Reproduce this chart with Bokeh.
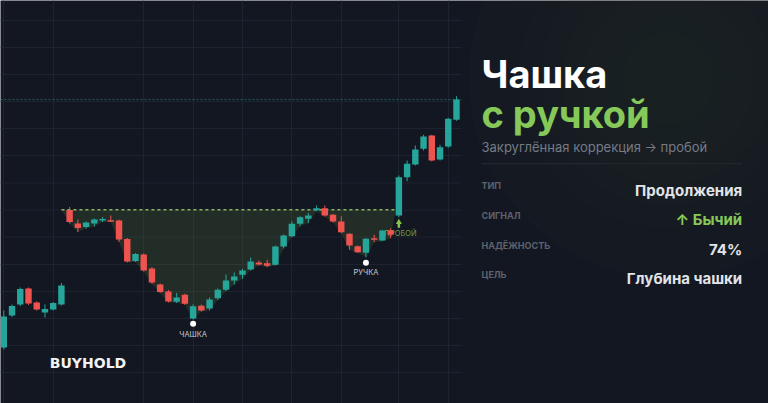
from bokeh.plotting import figure
from bokeh.models import Range1d, FixedTicker, ColumnDataSource
from bokeh.core.properties import value
from bokeh.embed import file_html
from bokeh.resources import INLINE

# ---------------- data ----------------
opens = [53, 85, 96, 112, 98, 88, 91, 96,
         190.5, 177, 173.5, 177, 180.5, 180.2, 180, 161.5, 139.5, 146, 132, 116,
         109, 98.7, 105.7, 82, 94.7, 92, 102.3, 110.7, 120, 125.7, 131, 138,
         137.3, 135.7, 154, 164.3, 176.7, 181.7, 190.3, 192.3, 185.7, 179, 166.7,
         154.3, 147.7, 162.3, 160, 170, 185, 223.3, 236, 251.7, 265, 241, 254, 280.7]
closes = [84, 94.5, 111.5, 97, 91, 91.5, 97.5, 115,
          178.5, 172.5, 178, 181, 181.5, 179.3, 161, 139, 146.5, 130, 118, 108.5,
          99, 103, 96.7, 94.3, 90, 101, 110.7, 120, 124, 130, 139, 136,
          134.7, 154, 165, 176.7, 183.3, 185, 192.3, 185, 179, 168.3, 155,
          148.3, 161.7, 160.7, 170, 165.7, 223.3, 236.7, 251, 264, 240, 253.3, 281.7, 301]
highs = [90, 96, 113, 113, 99, 96, 98.5, 117.5,
         193.5, 181, 179, 182, 183.5, 185, 181, 162.5, 147.5, 147, 133.5, 117,
         110.5, 107.5, 106.7, 96, 96, 103, 112, 126, 128, 131.7, 143, 140,
         140.7, 155, 166, 179.3, 184.3, 187.7, 195, 195, 186.7, 184.3, 167.3,
         155, 162.3, 165.7, 170.7, 172.3, 225, 240, 255, 265.7, 265.7, 255.7, 282.7, 304.3]
lows = [51, 83.5, 94.5, 95.5, 90, 83, 90, 95,
        177, 168.5, 172, 174, 178.5, 178.5, 158.5, 138, 138.5, 129, 116.5, 107.5,
        98, 97.5, 95.7, 81, 89, 90, 100.5, 109.5, 116, 121.7, 130, 135,
        133.3, 135, 152, 163.3, 174.3, 177.3, 189.3, 184, 178, 167.3, 150.7,
        147.7, 143.3, 158.3, 159.3, 162.3, 183.3, 219.3, 235, 250, 239, 240, 252.7, 279.7]
idx = list(range(len(opens)))

grid_x = [0, 6, 17, 23, 29, 35, 41, 48, 54]
grid_y = [28, 55, 82, 109, 136, 163.5, 190.5, 217.5, 245, 272, 299, 326, 353, 380]

rim_level = 190.7
cup_start = 7.0
cup_end = 47.6

marks_x = [23, 44]
marks_y = [76.7, 137.7]
marks_text = ["ЧАШКА", "РУЧКА"]
marks_text_y = [66.5, 128.3]

breakout_x = 48
breakout_arrow_y = 178.3
breakout_text = "ПРОБОЙ"
breakout_text_y = 166.7

title_1 = "Чашка"
title_2 = "с ручкой"
subtitle = "Закруглённая коррекция → пробой"
row_labels = ["ТИП", "СИГНАЛ", "НАДЁЖНОСТЬ", "ЦЕЛЬ"]
row_values = ["Продолжения", "↑ Бычий", "74%", "Глубина чашки"]

BG = "#131722"
UP = "#26a69a"
DOWN = "#ef5350"
GREEN = "#86c95a"
FONT = value("Inter")

X0, X1 = -0.401, 92.91   # candle-index span of the whole canvas
CHART_END = 55.61         # right edge of the price area (index units)

p = figure(width=768, height=403, x_range=Range1d(X0, X1), y_range=Range1d(-3, 400),
           output_backend="svg", toolbar_location=None, min_border=0)
p.extra_x_ranges = {"px": Range1d(0, 768)}
p.extra_y_ranges = {"py": Range1d(403, 0)}
p.background_fill_color = BG
p.border_fill_color = BG
p.outline_line_color = None
p.axis.visible = False
p.xgrid.ticker = FixedTicker(ticks=grid_x)
p.xgrid.grid_line_color = "#1e2330"
p.ygrid.visible = False

# panel glow
glow_r = [200, 175, 150, 128, 106, 86, 66, 46]
p.circle([668] * len(glow_r), [78] * len(glow_r), radius=glow_r, fill_color="#354530",
         fill_alpha=0.045, line_color=None, x_range_name="px", y_range_name="py")

# horizontal grid of the price area only
p.segment([X0] * len(grid_y), grid_y, [CHART_END] * len(grid_y), grid_y,
          line_color="#1e2330", line_width=1)

# cup area
poly_x = [cup_start] + idx[8:48] + [cup_end]
poly_y = [rim_level] + lows[8:48] + [rim_level]
p.patch(poly_x, poly_y, fill_color="#8bc34a", fill_alpha=0.13, line_color=None)

# last price line
p.line([X0, CHART_END], [closes[-1], closes[-1]], line_color=UP, line_alpha=0.5,
       line_dash="2 2", line_width=1)

# rim line
p.line([cup_start, cup_end], [rim_level, rim_level], line_color="#9ccc65", line_alpha=0.85,
       line_dash="3 3", line_width=1.5)

# breakout label (under candles)
p.text([breakout_x + 0.2], [breakout_text_y], text=[breakout_text], text_color="#7cb342",
       text_alpha=0.9, text_font=FONT, text_font_size="7.5px", text_align="center",
       text_baseline="middle")
p.segment([breakout_x], [breakout_arrow_y - 1.5], [breakout_x], [breakout_arrow_y - 5.5],
          line_color="#8bc34a", line_width=2.5)
p.scatter([breakout_x], [breakout_arrow_y], marker="triangle", size=6,
          fill_color="#8bc34a", line_color=None)

colors = [UP if c >= o else DOWN for o, c in zip(opens, closes)]
src = ColumnDataSource(dict(
    x=idx, o=opens, c=closes, h=highs, l=lows, color=colors,
    top=[max(o, c) for o, c in zip(opens, closes)],
    bottom=[min(o, c) - (0.6 if abs(o - c) < 1.2 else 0) for o, c in zip(opens, closes)],
))
p.segment(x0="x", y0="l", x1="x", y1="h", line_color="color", line_width=1, source=src)
p.vbar(x="x", width=0.78, top="top", bottom="bottom", fill_color="color",
       line_color=None, source=src)

# cup / handle markers
p.scatter(marks_x, marks_y, size=6, fill_color="white", line_color=None)
p.text(marks_x, marks_text_y, text=marks_text, text_color="#c5c9d0", text_font=FONT,
       text_font_size="7.5px", text_align="center", text_baseline="middle")

# logo
p.text([87.5], [362.5], text=["BUYHOLD"], text_color="#f2f3f5",
       text_font=value("DejaVu Sans"), text_font_size="14px", text_font_style="bold",
       text_align="center", text_baseline="middle", x_range_name="px", y_range_name="py")

# ---------------- info panel ----------------
kw = dict(x_range_name="px", y_range_name="py", text_font=FONT)
p.text([481], [73.3], text=[title_1], text_color="#ffffff", text_font_size="38px",
       text_font_style="bold", text_baseline="alphabetic", **kw)
p.text([481], [113.3], text=[title_2], text_color=GREEN, text_font_size="38px",
       text_font_style="bold", text_baseline="alphabetic", **kw)
p.text([481], [146.7], text=[subtitle], text_color="#767b85", text_font_size="13px",
       text_baseline="alphabetic", **kw)
p.segment([481], [163.3], [741.7], [163.3], line_color="#262b34", line_width=1,
          x_range_name="px", y_range_name="py")

label_y = [185, 215, 244.5, 274]
value_y = [189.5, 218.5, 248.5, 277.5]
p.text([481] * 4, label_y, text=row_labels, text_color="#5d626b", text_font_size="9px",
       text_font_style="bold", text_baseline="middle", **kw)
p.text([741.7] * 4, value_y, text=row_values,
       text_color=["#e2e4e8", GREEN, "#e2e4e8", "#e2e4e8"], text_font_size="15px",
       text_font_style="bold", text_align="right", text_baseline="alphabetic", **kw)

open("out.html", "w").write(file_html(p, INLINE))
